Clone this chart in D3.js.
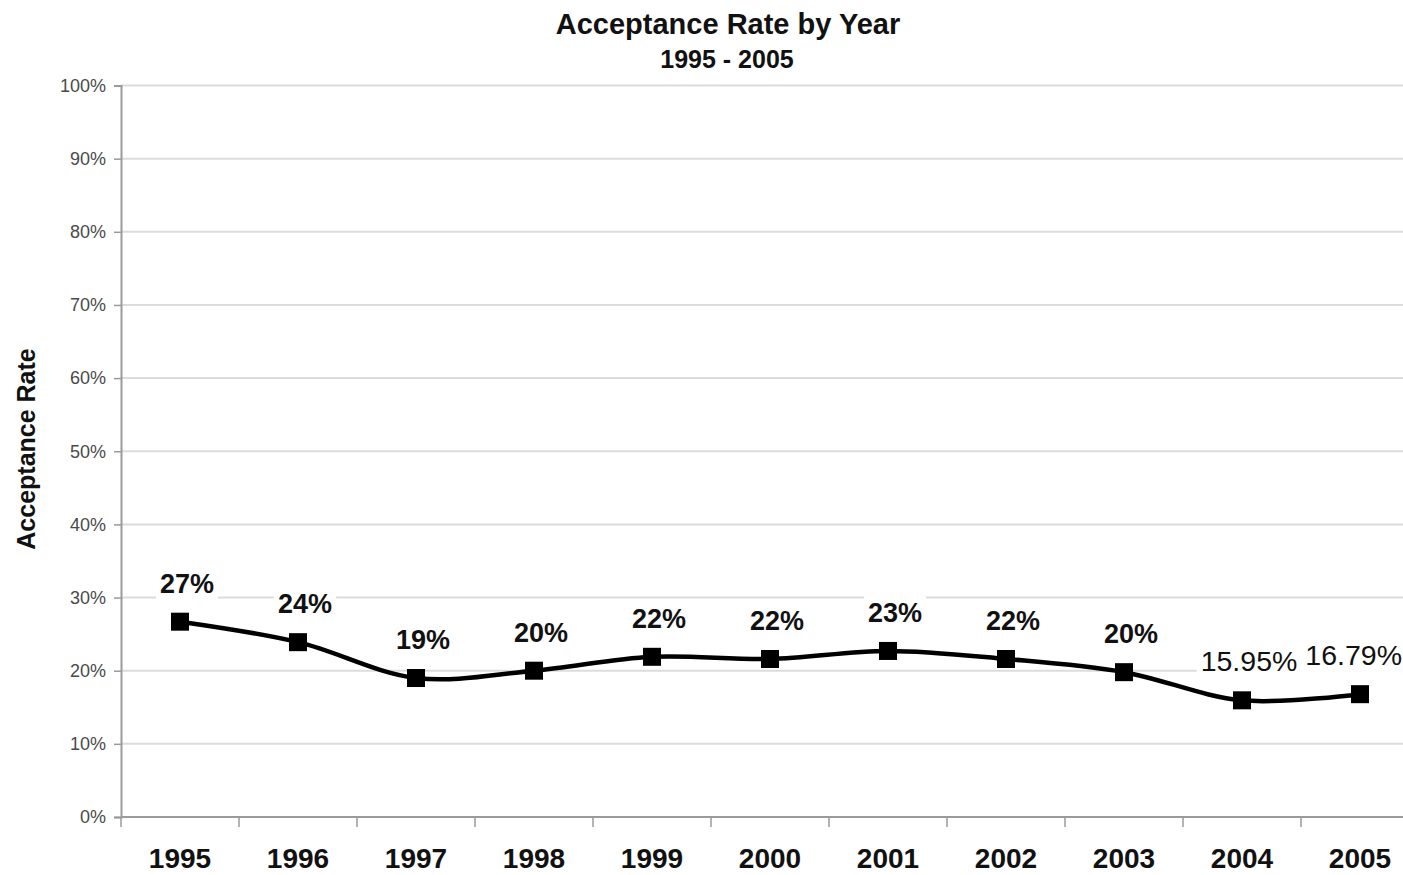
<!DOCTYPE html>
<html><head><meta charset="utf-8">
<script src="https://cdn.jsdelivr.net/npm/d3@7"></script>
<style>
html,body{margin:0;padding:0;background:#fff;}
svg text{font-family:"Liberation Sans",Arial,sans-serif;}
</style></head>
<body>
<svg id="chart" width="1403" height="875"></svg>
<script>
const years = ["1995","1996","1997","1998","1999","2000","2001","2002","2003","2004","2005"];
const rates = [0.267, 0.239, 0.190, 0.200, 0.219, 0.216, 0.227, 0.216, 0.198, 0.1595, 0.1679];
const pointLabels = ["27%","24%","19%","20%","22%","22%","23%","22%","20%","15.95%","16.79%"];
const yTicks = [0,0.1,0.2,0.3,0.4,0.5,0.6,0.7,0.8,0.9,1.0];
const titleText = "Acceptance Rate by Year";
const subtitleText = "1995 - 2005";
const yAxisTitle = "Acceptance Rate";

(function(){
const W = 1403;
const svg = d3.select("#chart");
const plotLeft = 121, plotTop = 85.5, plotBottom = 817, band = 118;
const x = d3.scaleBand().domain(years).range([plotLeft, plotLeft + band*years.length]).paddingInner(0).paddingOuter(0);
const y = d3.scaleLinear().domain([0,1]).range([plotBottom, plotTop]);

// gridlines
svg.append("g").selectAll("line").data(yTicks.filter(d=>d>0)).join("line")
  .attr("x1", plotLeft).attr("x2", W)
  .attr("y1", d=>y(d)).attr("y2", d=>y(d))
  .attr("stroke", "#dcdcdc").attr("stroke-width", 2);

// y axis
const yAxis = d3.axisLeft(y).tickValues(yTicks).tickFormat(d3.format(".0%")).tickSize(7).tickPadding(8);
const gy = svg.append("g").attr("transform", `translate(${plotLeft},0)`).call(yAxis);
gy.select(".domain").attr("stroke", "#9a9a9a").attr("stroke-width", 2);
gy.selectAll(".tick line").attr("stroke", "#9a9a9a").attr("stroke-width", 1.5);
gy.selectAll(".tick text").attr("font-size", 18).attr("fill", "#4a4a4a")
  .attr("font-family", "'Liberation Sans', Arial, sans-serif");

// x axis
const xAxis = d3.axisBottom(x).tickSize(0).tickPadding(31);
const gx = svg.append("g").attr("transform", `translate(0,${plotBottom})`).call(xAxis);
gx.select(".domain").remove();
gx.append("line").attr("x1", plotLeft).attr("x2", W).attr("y1",0).attr("y2",0)
  .attr("stroke", "#9a9a9a").attr("stroke-width", 2);
gx.selectAll(".tick text").attr("font-size", 28).attr("font-weight", "bold").attr("fill", "#111")
  .attr("font-family", "'Liberation Sans', Arial, sans-serif").attr("dy", "0.71em");
gx.append("g").selectAll("line").data(years).join("line")
  .attr("x1", d=>x(d)).attr("x2", d=>x(d)).attr("y1", 0).attr("y2", 10)
  .attr("stroke", "#9a9a9a").attr("stroke-width", 1.5);

// line
const line = d3.line().x((d,i)=>x(years[i]) + x.bandwidth()/2).y(d=>y(d))
  .curve(d3.curveCatmullRom.alpha(0.5));
svg.append("path").datum(rates).attr("d", line)
  .attr("fill", "none").attr("stroke", "#000").attr("stroke-width", 4.5);

// markers
const ms = 18;
svg.append("g").selectAll("rect").data(rates).join("rect")
  .attr("x", (d,i)=>x(years[i]) + x.bandwidth()/2 - ms/2)
  .attr("y", d=>y(d) - ms/2)
  .attr("width", ms).attr("height", ms).attr("fill", "#000");

// point labels with white background
const lg = svg.append("g");
rates.forEach((d,i)=>{
  const cx = x(years[i]) + x.bandwidth()/2 + 7;
  const cy = y(d) - 29;
  const isDec = pointLabels[i].includes(".");
  const g = lg.append("g");
  const t = g.append("text").attr("x", cx).attr("y", cy)
    .attr("text-anchor", "middle").attr("font-size", isDec ? 28.5 : 27)
    .attr("font-weight", isDec ? "normal" : "bold").attr("fill", "#111")
    .text(pointLabels[i]);
  let bb = t.node().getBBox();
  if (bb.x + bb.width > W - 1) {
    t.attr("x", cx - (bb.x + bb.width - (W - 1)));
    bb = t.node().getBBox();
  }
  g.insert("rect", "text").attr("x", bb.x - 4).attr("y", bb.y - 2)
    .attr("width", bb.width + 8).attr("height", bb.height + 4).attr("fill", "#fff");
});

// titles
svg.append("text").attr("x", 728).attr("y", 34).attr("text-anchor", "middle")
  .attr("font-size", 29).attr("font-weight", "bold").attr("fill", "#111").text(titleText);
svg.append("text").attr("x", 727).attr("y", 68).attr("text-anchor", "middle")
  .attr("font-size", 25).attr("font-weight", "bold").attr("fill", "#111").text(subtitleText);
svg.append("text").attr("transform", "translate(35,449) rotate(-90)").attr("text-anchor", "middle")
  .attr("font-size", 25).attr("font-weight", "bold").attr("fill", "#111").text(yAxisTitle);
})();
</script>
</body></html>
